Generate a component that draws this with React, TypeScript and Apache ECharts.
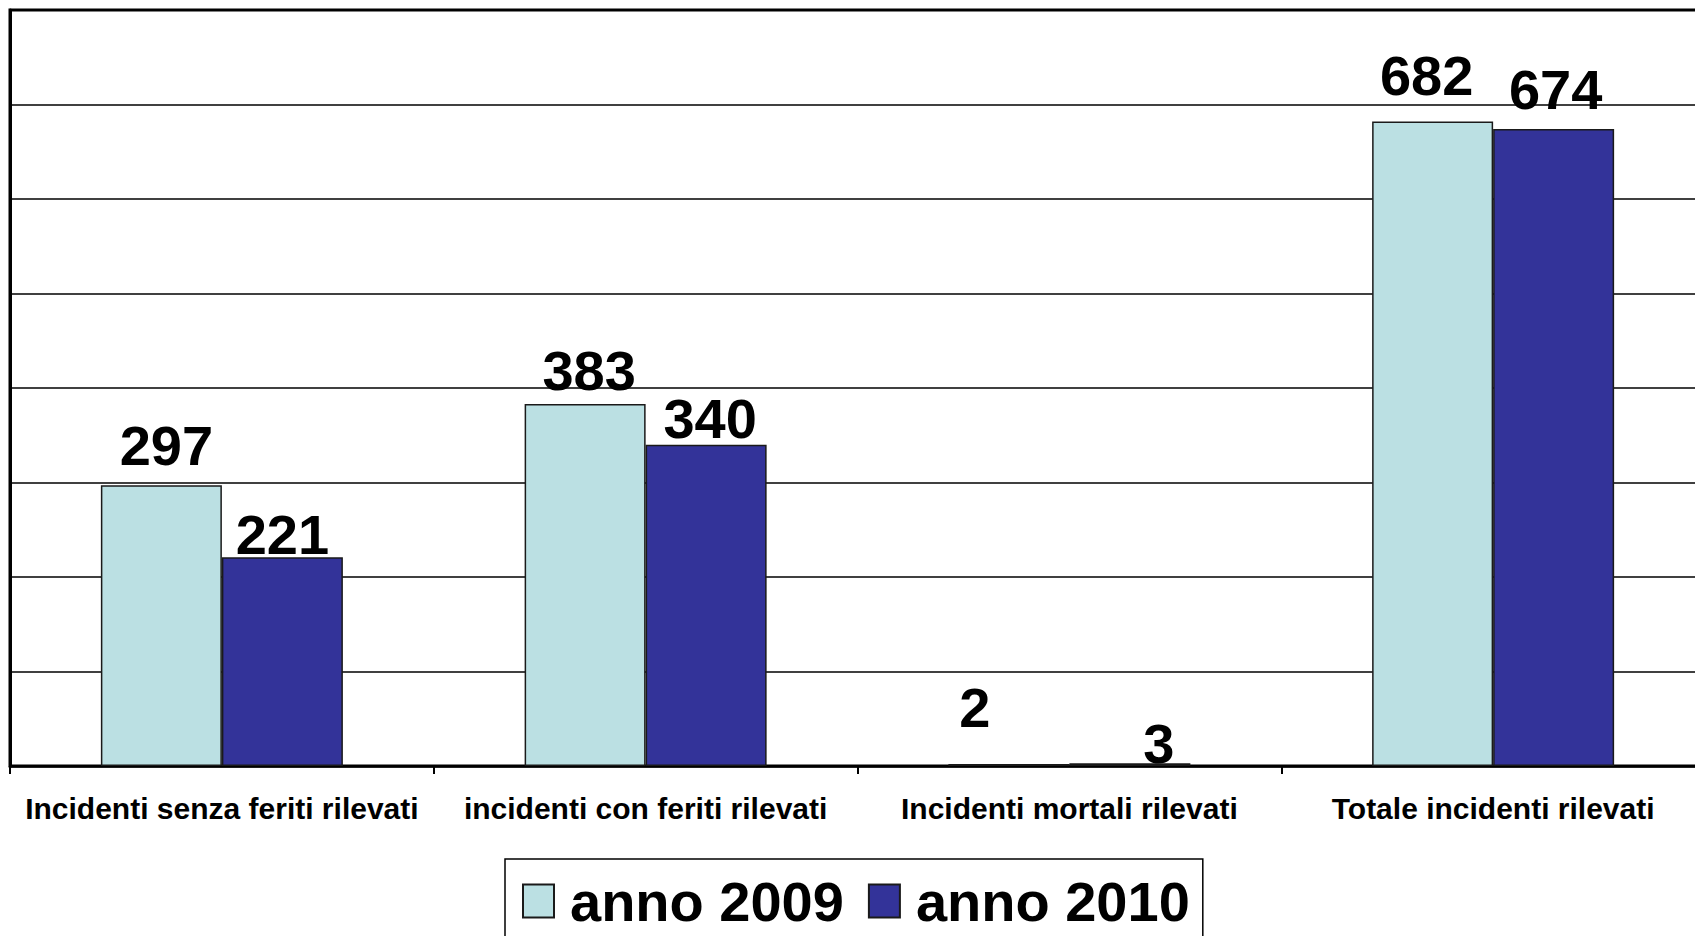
import React, { useEffect, useRef } from "react";
import * as echarts from "echarts";

const categories = [
  "Incidenti senza feriti rilevati",
  "incidenti con feriti rilevati",
  "Incidenti mortali rilevati",
  "Totale incidenti rilevati",
];
const seriesNames = ["anno 2009", "anno 2010"];
const values2009 = [297, 383, 2, 682];
const values2010 = [221, 340, 3, 674];

// label nudges (style only): [dx, dy] in px
const labelShift2009 = [[5, -12], [4, -6], [-34, -29], [-6, -18]];
const labelShift2010 = [[0, 5], [4, 2], [29, 8], [2, -12]];

const FONT = "'Liberation Sans', Arial, Helvetica, sans-serif";

export default function App() {
  const ref = useRef<HTMLDivElement>(null);
  useEffect(() => {
    document.body.style.margin = "0";
    if (!ref.current) return;
    const chart = echarts.init(ref.current, null, { renderer: "svg" });
    const mkData = (vals: number[], shifts: number[][]) =>
      vals.map((v, i) => ({
        value: v,
        label: { offset: shifts[i] },
      }));
    const labelBase = {
      show: true,
      position: "top",
      distance: 0,
      color: "#000",
      fontSize: 56,
      fontWeight: "bold",
      fontFamily: FONT,
    };
    chart.setOption({
      animation: false,
      backgroundColor: "#fff",
      grid: {
        left: 10,
        width: 1695,
        top: 10,
        height: 756,
        outerBoundsMode: "none",
        containLabel: false,
        show: true,
        borderColor: "#000",
        borderWidth: 3,
      },
      legend: {
        left: 505,
        top: 859,
        padding: [14, 13, 14, 17],
        itemWidth: 31,
        itemHeight: 33,
        itemGap: 24,
        borderColor: "#000",
        borderWidth: 1.5,
        icon: "rect",
        data: seriesNames,
        textStyle: {
          fontSize: 56,
          fontWeight: "bold",
          fontFamily: FONT,
          color: "#000",
          padding: [0, 0, 0, 11],
        },
      },
      xAxis: {
        type: "category",
        data: categories,
        axisLine: { show: true, lineStyle: { color: "#000", width: 2.5 } },
        axisTick: { show: true, length: 8, lineStyle: { color: "#000", width: 2 } },
        axisLabel: {
          margin: 27,
          fontSize: 30,
          fontWeight: "bold",
          fontFamily: FONT,
          color: "#000",
          interval: 0,
        },
      },
      yAxis: {
        type: "value",
        min: 0,
        max: 800,
        interval: 100,
        axisLabel: { show: false },
        axisTick: { show: false },
        axisLine: { show: true, lineStyle: { color: "#000", width: 3 } },
        splitLine: { show: true, lineStyle: { color: "#000", width: 1.5 } },
      },
      series: [
        {
          name: seriesNames[0],
          type: "bar",
          barWidth: 121,
          barGap: "0%",
          data: mkData(values2009, labelShift2009),
          itemStyle: { color: "#BBE0E3", borderColor: "#1a1a1a", borderWidth: 1.5 },
          label: labelBase,
        },
        {
          name: seriesNames[1],
          type: "bar",
          barWidth: 121,
          barGap: "0%",
          data: mkData(values2010, labelShift2010),
          itemStyle: { color: "#333399", borderColor: "#1a1a1a", borderWidth: 1.5 },
          label: labelBase,
        },
      ],
    });
    return () => chart.dispose();
  }, []);
  return <div ref={ref} style={{ width: 1695, height: 936 }} />;
}
